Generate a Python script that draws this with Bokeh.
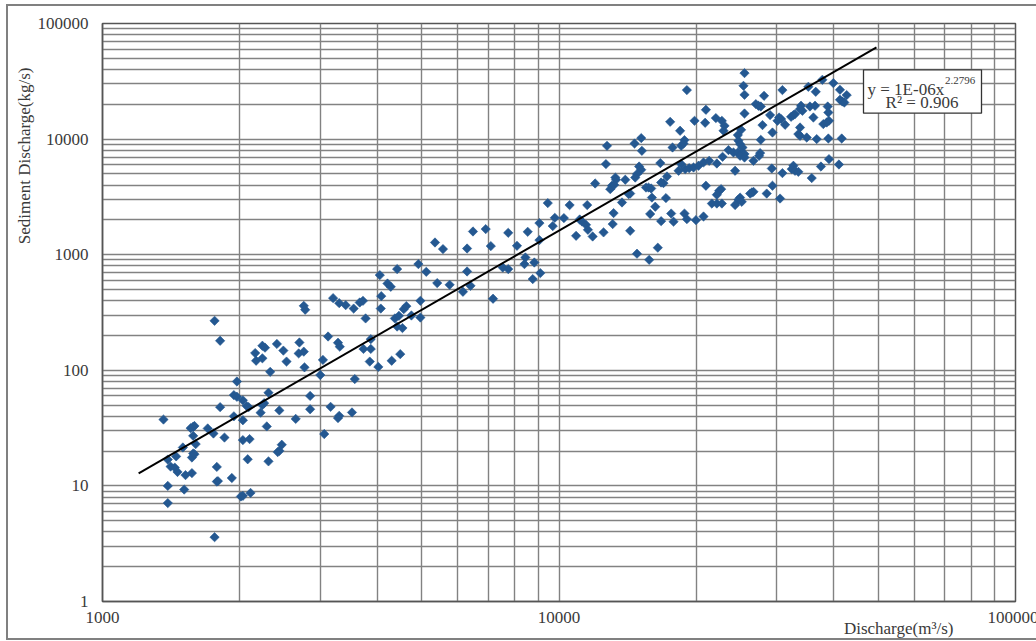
import numpy as np
from bokeh.plotting import figure
from bokeh.models import FixedTicker, Label, BoxAnnotation, BasicTickFormatter, Title
from bokeh.embed import file_html
from bokeh.resources import INLINE

# ---------------- data ----------------
# discharge (m3/s) and sediment discharge (kg/s), grouped by region of the cloud
q_low = [2760, 2780, 1760, 1810, 2410, 2700, 2240, 2270, 2160, 2490,
         2690, 2760, 2170, 2240, 2530, 2770, 2330, 3000, 1970, 1940,
         1970, 2310, 2850, 2030, 2070, 2090, 2260, 2240, 1810, 2440,
         2850, 2220, 1940, 2030, 2650, 1360, 1580, 1590, 1560, 1700,
         2290, 1750, 1580, 1850, 2030, 2100, 1600, 1500, 2470, 2440,
         2420, 1580, 1570, 1590, 1450, 1390, 2080, 2310, 1410, 1440,
         1460, 1780, 1570, 1520, 1920, 1780, 1790, 1390, 1510, 2010,
         2030, 2110, 1390, 1760]
s_low = [361, 334, 268, 180, 169, 174, 163, 157, 141, 148,
         140, 145, 121, 127, 119, 106, 97, 91, 80, 61,
         59, 64, 60, 55, 49, 48, 52, 50, 48, 45,
         46, 43, 40, 37, 38, 37.5, 32.5, 33, 31.6, 31.4,
         32.7, 28.4, 27.1, 26.2, 24.9, 25.4, 23, 21.5, 22.7, 20.1,
         19.6, 19.1, 17.6, 18.8, 18, 16.9, 17, 16.3, 14.7, 14.4,
         13.2, 14.6, 12.9, 12.4, 11.7, 10.9, 11, 10, 9.3, 8.1,
         8.2, 8.7, 7.1, 3.6]

q_mid = [5350, 5570, 6480, 6910, 6290, 7090, 4420, 4920, 5120, 4050,
         6290, 4210, 4280, 5410, 5760, 6400, 6160, 3200, 3300, 3410,
         3550, 3660, 3720, 4080, 4070, 4970, 7170, 3770, 4370, 4460,
         4570, 4630, 4750, 4970, 4420, 4540, 3120, 3280, 3310, 3730,
         3870, 3870, 3040, 3570, 3850, 4020, 4300, 4490, 3160, 3300,
         3520, 3280, 3060]
s_mid = [1275, 1118, 1588, 1665, 1131, 1187, 751, 829, 711, 666,
         716, 563, 528, 568, 549, 538, 478, 421, 381, 366,
         342, 386, 399, 438, 342, 399, 416, 281, 281, 296,
         338, 359, 298, 286, 239, 232, 196, 173, 160, 153,
         153, 186, 123, 84, 119, 107, 121, 138, 48.3, 40.4,
         43.2, 38.6, 28.1]

q_10k = [12000, 9450, 10550, 11530, 9790, 10250, 11100, 11230, 9060, 9690,
         11460, 11570, 7740, 8540, 10900, 11850, 9060, 8090, 8440, 8400,
         8830, 7530, 7740, 9100, 8760]
s_10k = [4130, 2795, 2685, 2685, 2085, 2073, 2016, 1938, 1877, 1768,
         1814, 1642, 1547, 1578, 1457, 1437, 1337, 1194, 946, 829,
         856, 775, 751, 693, 615]

q_20k = [19060, 20980, 17520, 19810, 20900, 22060, 22740, 23050, 22930, 18420,
         15140, 14640, 12740, 15190, 17730, 18520, 18830, 18740, 12670, 14980,
         15140, 14820, 14690, 16670, 17240, 16940, 16740, 18520, 18900, 19280,
         18280, 19710, 20210, 20730, 21330, 22170, 22820, 23510, 13290, 13330,
         13970, 13060, 12950, 13210, 15710, 15510, 15920, 15980, 16250, 17150,
         14320, 14210, 13740, 15840, 13170, 13110, 12520, 14320, 16740, 17820,
         17610, 18830, 19060, 19950, 20730, 20980, 21620, 22170, 22740, 22430,
         22170, 22660, 16460, 14820, 15760]
s_20k = [26540, 17930, 14110, 14400, 13840, 15200, 14400, 13030, 11800, 11800,
         10200, 9160, 8750, 7920, 8460, 8750, 9800, 9160, 6080, 5790,
         5430, 4980, 4650, 6200, 4750, 4160, 4210, 6080, 5500, 5610,
         5320, 5680, 5880, 6280, 6490, 6150, 7030, 8030, 4650, 4450,
         4450, 3950, 3690, 4020, 3810, 3810, 3740, 3120, 2600, 3090,
         3380, 3340, 2830, 2250, 2290, 1840, 1560, 1610, 1950, 1930,
         2270, 2270, 2030, 1990, 2140, 3950, 2770, 2770, 2770, 3570,
         3300, 3690, 1150, 1020, 903]

q_high = [25490, 25360, 25490, 37750, 39900, 30860, 41260, 35170, 36510, 42680,
          28130, 41260, 41760, 42180, 26990, 27350, 27670, 33900, 35460, 36380,
          38780, 25490, 29000, 30350, 30660, 30100, 32240, 32620, 32890, 34140,
          33730, 36080, 38910, 39030, 37930, 38580, 31280, 27910, 33730, 29350,
          25060, 24650, 33440, 33730, 34890, 36690, 38910, 41620, 27670, 24720,
          24930, 25230, 24110, 24650, 25140, 25490, 24930, 27580, 27440, 26670,
          25490, 24310, 29250, 32620, 32350, 32890, 33440, 30860, 37480, 39030,
          41040, 35780, 29350, 28510, 26450, 26670, 26230, 24930, 24720, 25140,
          24310, 30500]
s_high = [37230, 28910, 24170, 32580, 30510, 26540, 26700, 28340, 25660, 24020,
          23690, 21880, 21150, 20730, 20080, 19420, 19140, 19420, 19140, 19420,
          19140, 16650, 16130, 15380, 14900, 14400, 15590, 16130, 16450, 17570,
          18170, 15380, 16990, 14400, 13490, 13920, 13300, 13220, 12600, 11400,
          12030, 10830, 11050, 10680, 10320, 10000, 10120, 10120, 9860, 9670,
          9050, 8460, 7660, 7660, 7570, 7420, 7170, 7570, 7170, 6490,
          6930, 5320, 5570, 5880, 5500, 5320, 5210, 5080, 5790, 6710,
          6030, 4600, 3950, 3380, 3450, 3500, 3380, 3120, 2990, 2870,
          2690, 3060]

# power-law trend line (as drawn: y = a * x^b)
fit_coef = 1.23e-6
fit_exp = 2.2796
fit_x_ends = [1200, 49600]

x_ticks = [1000, 10000, 100000]
x_tick_labels = ["1000", "10000", "100000"]
y_ticks = [1, 10, 100, 1000, 10000, 100000]
y_tick_labels = ["1", "10", "100", "1000", "10000", "100000"]

eq_text = "y = 1E-06x"
eq_power = "2.2796"
r2_text = "R\u00b2 = 0.906"
x_title = "Discharge(m\u00b3/s)"
y_title = "Sediment Discharge(kg/s)"

# ---------------- figure ----------------
W, H = 1030, 632
BL, BR, BT, BB = 94, 23, 17, 37
FONT = "Liberation Serif"
TXT = "#3a3a3a"
GRID = "#828282"
FRAME = "#555555"

p = figure(width=W, height=H, x_axis_type="log", y_axis_type="log",
           x_range=(1000, 100000), y_range=(1, 100000),
           output_backend="svg", toolbar_location=None,
           min_border_left=BL, min_border_right=BR,
           min_border_top=BT, min_border_bottom=BB)
p.styles = {"outline": "2px solid #808080", "margin-left": "8px", "margin-top": "6px"}
p.background_fill_color = "white"
p.border_fill_color = "white"
p.outline_line_color = FRAME
p.outline_line_width = 1.5

# figure-pixel -> data helpers (frame spans figure px BL..W-BR and BT..H-BB)
FX0, FX1 = BL, W - BR
FY0, FY1 = BT, H - BB


def xd(px):
    return 10 ** (3 + 2 * (px - FX0) / (FX1 - FX0))


def yd(py):
    return 10 ** (5 * (FY1 - py) / (FY1 - FY0))


x_minor = [m * 10 ** k for k in range(3, 5) for m in range(2, 10)]
y_minor = [m * 10 ** k for k in range(0, 5) for m in range(2, 10)]
p.xaxis.ticker = FixedTicker(ticks=x_ticks, minor_ticks=x_minor)
p.yaxis.ticker = FixedTicker(ticks=y_ticks, minor_ticks=y_minor)
p.xaxis.formatter = BasicTickFormatter(use_scientific=False)
p.yaxis.formatter = BasicTickFormatter(use_scientific=False)
p.xaxis.major_label_overrides = {t: l for t, l in zip(x_ticks, x_tick_labels)}
p.yaxis.major_label_overrides = {t: l for t, l in zip(y_ticks, y_tick_labels)}

for ax in (p.xaxis, p.yaxis):
    ax.major_tick_line_color = None
    ax.minor_tick_line_color = None
    ax.major_tick_out = 0
    ax.major_tick_in = 0
    ax.minor_tick_out = 0
    ax.minor_tick_in = 0
    ax.axis_line_color = FRAME
    ax.axis_line_width = 1.5
    ax.major_label_text_font = FONT
    ax.major_label_text_font_size = "17px"
    ax.major_label_text_color = TXT
p.xaxis.major_label_standoff = 10
p.yaxis.major_label_standoff = 14

for g in (p.xgrid, p.ygrid):
    g.grid_line_color = GRID
    g.grid_line_width = 1.4
    g.minor_grid_line_color = GRID
    g.minor_grid_line_width = 1.4

# scatter
q_all = q_low + q_mid + q_10k + q_20k + q_high
s_all = s_low + s_mid + s_10k + s_20k + s_high
p.scatter(q_all, s_all, marker="square", size=6.6, angle=np.pi / 4,
          fill_color="#245891", line_color="#245891", line_width=0.6)

# trend line
fx = np.array(fit_x_ends, dtype=float)
p.line(fx, fit_coef * fx ** fit_exp, line_color="black", line_width=2)

# equation box (positions in page px, converted to data coords)
OX, OY = 6, 6  # figure origin in picture px
p.add_layout(BoxAnnotation(left=xd(861 - OX), right=xd(979 - OX),
                           top=yd(69.3 - OY), bottom=yd(112.7 - OY),
                           fill_color="white", fill_alpha=1.0,
                           line_color="#333333", line_width=1.3, line_alpha=1.0))
p.add_layout(Label(x=xd(865 - OX), y=yd(88.5 - OY), text=eq_text, text_font=FONT,
                   text_font_size="17px", text_color=TXT,
                   text_align="left", text_baseline="alphabetic"))
p.add_layout(Label(x=xd(942.5 - OX), y=yd(80 - OY), text=eq_power, text_font=FONT,
                   text_font_size="11px", text_color=TXT,
                   text_align="left", text_baseline="alphabetic"))
p.add_layout(Label(x=xd(919.5 - OX), y=yd(102 - OY), text=r2_text, text_font=FONT,
                   text_font_size="17px", text_color=TXT,
                   text_align="center", text_baseline="middle"))

# axis titles as side titles
p.add_layout(Title(text=y_title, align="right", offset=44, standoff=2,
                   text_font=FONT, text_font_size="17px", text_font_style="normal",
                   text_color=TXT), "left")
p.add_layout(Title(text=x_title, align="right", offset=62, standoff=-17,
                   text_font=FONT, text_font_size="17px", text_font_style="normal",
                   text_color=TXT), "below")

open("out.html", "w").write(file_html(p, INLINE))
